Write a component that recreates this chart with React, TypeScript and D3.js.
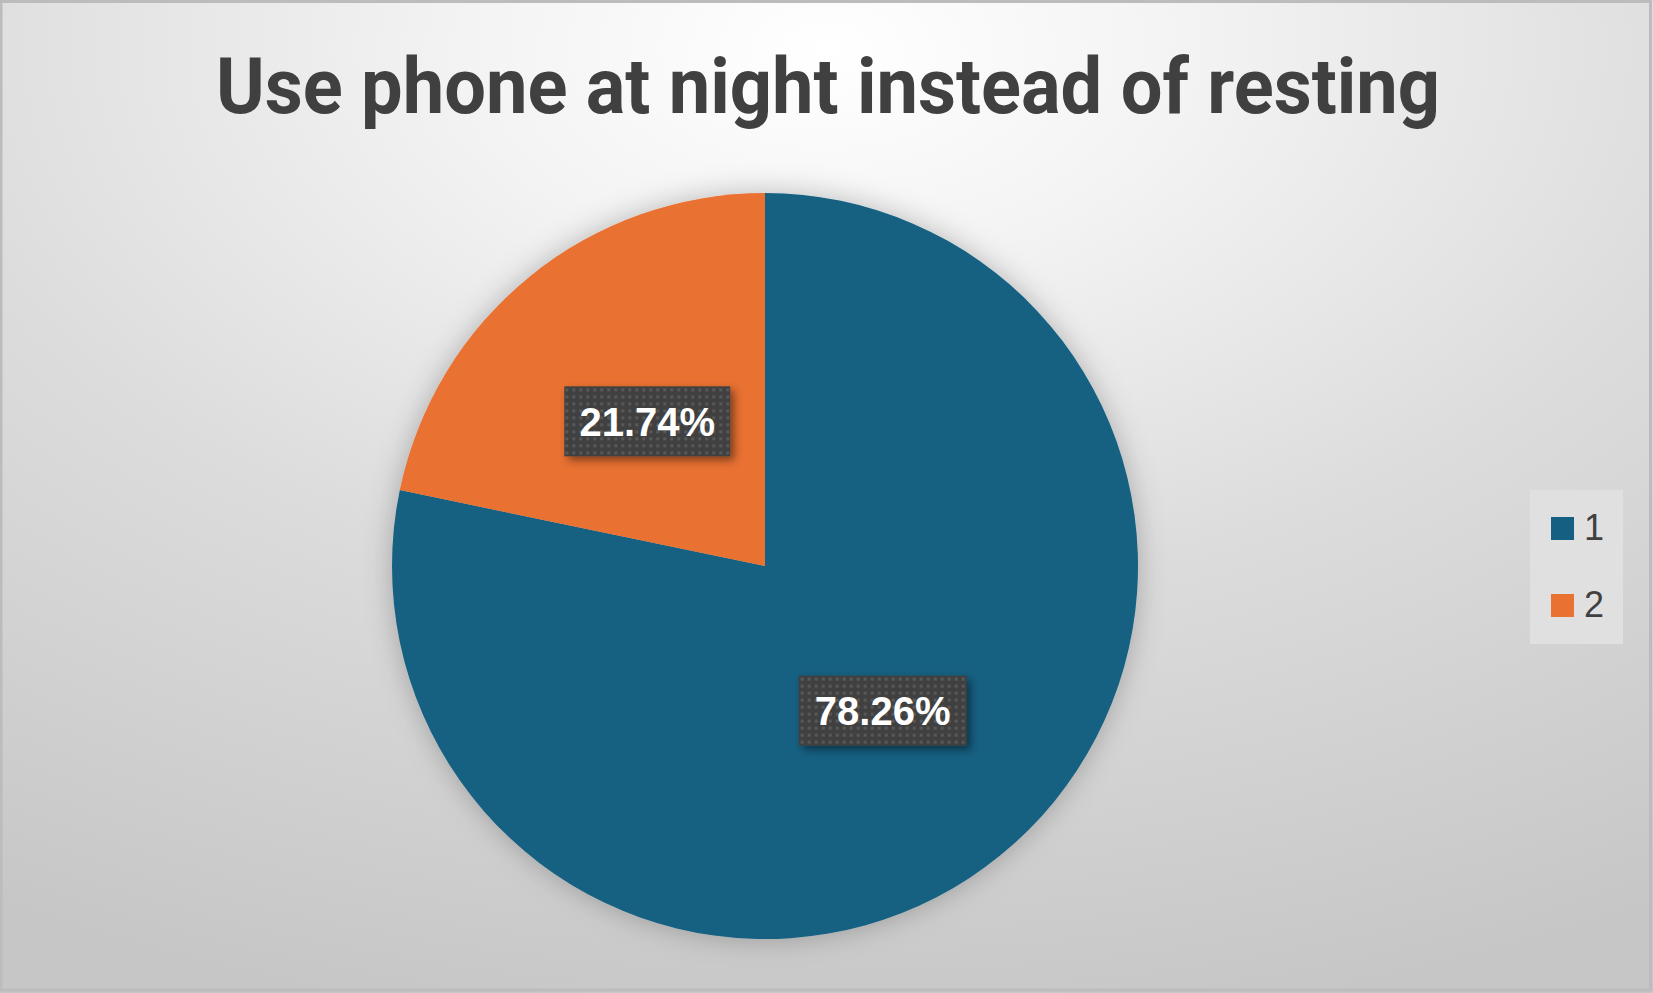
import * as d3 from "d3";
import { useEffect } from "react";

const categories = ["1", "2"];
const counts = [18, 5];
const colors = ["#156082", "#E97132"];
const title = "Use phone at night instead of resting";

const W = 1653;
const H = 993;

export default function App() {
  useEffect(() => {
    document.body.style.margin = "0";
  }, []);

  const cx = 765;
  const cy = 566;
  const radius = 373;
  const total = d3.sum(counts);

  const pie = d3
    .pie<number>()
    .sort(null)
    .value((d) => d);
  const arcs = pie(counts);
  const arc = d3.arc<d3.PieArcDatum<number>>().innerRadius(0).outerRadius(radius);

  const fmt = d3.format(".2%");

  return (
    <svg width={W} height={H} style={{ display: "block" }}>
      <defs>
        <radialGradient id="bg" cx="50%" cy="5%" r="100%" fx="50%" fy="5%">
          <stop offset="0%" stopColor="#ffffff" />
          <stop offset="22%" stopColor="#f3f3f3" />
          <stop offset="55%" stopColor="#dcdcdc" />
          <stop offset="100%" stopColor="#c6c6c6" />
        </radialGradient>
        <filter id="pieShadow" x="-20%" y="-20%" width="140%" height="140%">
          <feDropShadow dx="0" dy="0" stdDeviation="14" floodColor="#000" floodOpacity="0.25" />
        </filter>
        <filter id="boxShadow" x="-30%" y="-30%" width="160%" height="160%">
          <feDropShadow dx="4" dy="4" stdDeviation="4" floodColor="#000" floodOpacity="0.45" />
        </filter>
        <pattern id="dots" width="7" height="7" patternUnits="userSpaceOnUse">
          <rect width="7" height="7" fill="#404040" />
          <rect x="2" y="2" width="3" height="3" fill="#585858" />
        </pattern>
      </defs>

      <rect x={0} y={0} width={W} height={H} fill="url(#bg)" />
      <rect x={1} y={1.5} width={W - 3.5} height={H - 4.5} fill="none" stroke="#bcbcbc" strokeWidth={3} />

      <text
        x={828}
        y={113}
        textAnchor="middle"
        textLength={1224}
        lengthAdjust="spacingAndGlyphs"
        fontFamily="Roboto, 'DejaVu Sans', sans-serif"
        fontWeight="bold"
        fontSize={77}
        fill="#404040"
      >
        {title}
      </text>

      <g transform={`translate(${cx},${cy})`}>
        <g filter="url(#pieShadow)">
          {arcs.map((a, i) => (
            <path key={i} d={arc(a) || ""} fill={colors[i]} />
          ))}
        </g>
        {arcs.map((a, i) => {
          const [lx, ly] = arc.centroid(a);
          const bw = i === 0 ? 168 : 166;
          const bh = 70;
          return (
            <g key={"l" + i} transform={`translate(${lx},${ly})`}>
              <rect
                x={-bw / 2}
                y={-bh / 2}
                width={bw}
                height={bh}
                fill="url(#dots)"
                filter="url(#boxShadow)"
              />
              <text
                x={0}
                y={14.5}
                textAnchor="middle"
                fontFamily="'Liberation Sans', Arial, sans-serif"
                fontWeight="bold"
                fontSize={40}
                fill="#ffffff"
              >
                {fmt(a.data / total)}
              </text>
            </g>
          );
        })}
      </g>

      <g>
        <rect x={1530} y={490} width={93} height={154} fill="#e0e0e0" />
        {categories.map((c, i) => (
          <g key={c} transform={`translate(1551,${517 + i * 77})`}>
            <rect x={0} y={0} width={23} height={23} fill={colors[i]} />
            <text
              x={33}
              y={23}
              fontFamily="'Liberation Sans', Arial, sans-serif"
              fontSize={36}
              fill="#404040"
            >
              {c}
            </text>
          </g>
        ))}
      </g>
    </svg>
  );
}
